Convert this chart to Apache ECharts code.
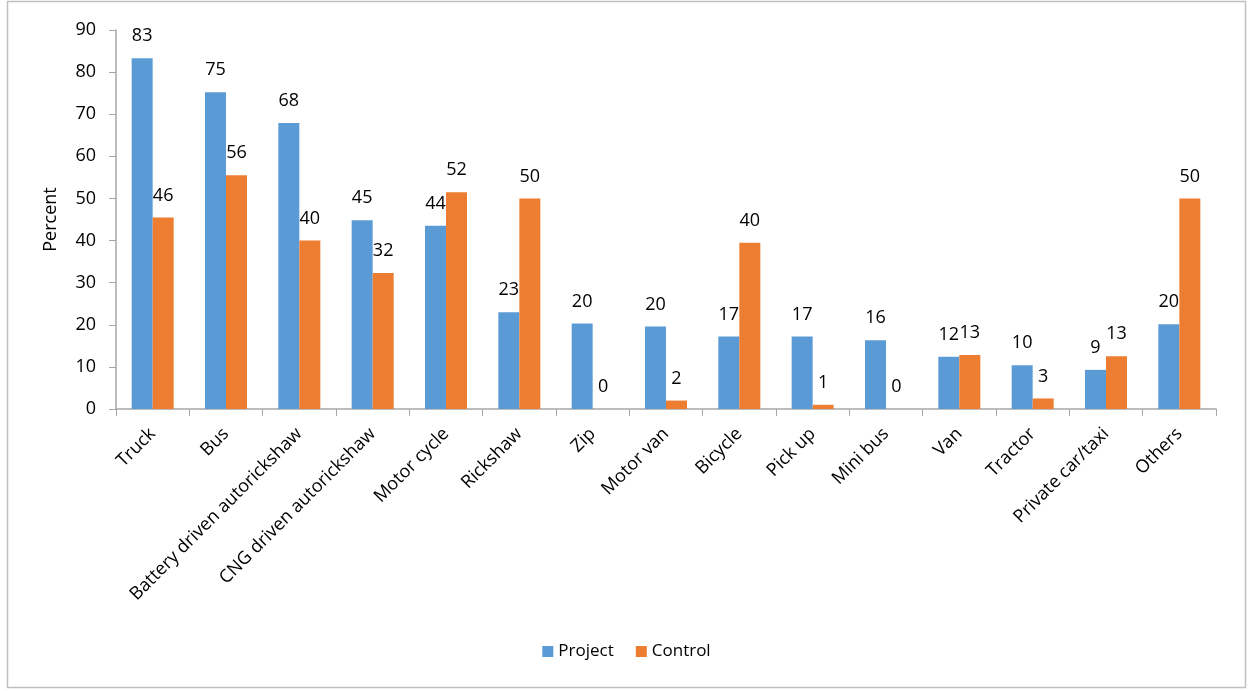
<!DOCTYPE html>
<html><head><meta charset="utf-8">
<script src="https://cdn.jsdelivr.net/npm/echarts@6/dist/echarts.min.js"></script>
<style>html,body{margin:0;padding:0;background:#fff}#c{width:1253px;height:691px}</style>
</head><body><div id="c"></div>
<script>
const categories = ["Truck","Bus","Battery driven autorickshaw","CNG driven autorickshaw","Motor cycle","Rickshaw","Zip","Motor van","Bicycle","Pick up","Mini bus","Van","Tractor","Private car/taxi","Others"];
const projectValues = [83.3,75.2,67.9,44.8,43.5,23.0,20.3,19.6,17.2,17.2,16.3,12.4,10.4,9.3,20.1];
const controlValues = [45.5,55.5,40.0,32.3,51.5,50.0,0,2.0,39.5,1.0,0,12.8,2.5,12.5,50.0];
const yTicks = [0,10,20,30,40,50,60,70,80,90];

const FONT = '"Open Sans", "Noto Sans", sans-serif';
const chart = echarts.init(document.getElementById('c'));
const labelCfg = {show:true, position:'top', distance:13, color:'#000', fontSize:18, fontFamily:FONT, formatter:p=>Math.round(p.value)};
chart.setOption({
  animation:false,
  graphic:[{type:'rect', shape:{x:7.5,y:1.5,width:1238,height:686}, style:{fill:null, stroke:'#bfbfbf', lineWidth:1.5}, silent:true}],
  grid:{left:116, right:37, top:30, bottom:282, containLabel:false},
  legend:{bottom:26, left:'center', itemWidth:11, itemHeight:11, itemGap:22, icon:'rect',
    textStyle:{fontSize:17, fontFamily:FONT, color:'#000'}, data:['Project','Control']},
  xAxis:{type:'category', data:categories,
    axisLine:{lineStyle:{color:'#a6a6a6', width:1.5}},
    axisTick:{show:true, length:7, lineStyle:{color:'#a6a6a6'}},
    axisLabel:{rotate:45, interval:0, fontSize:18, fontFamily:FONT, color:'#000', margin:22}},
  yAxis:{type:'value', min:0, max:90, interval:10, name:'Percent', nameLocation:'middle', nameGap:56,
    nameTextStyle:{fontSize:18, fontFamily:FONT, color:'#000'},
    axisLine:{show:true, lineStyle:{color:'#a6a6a6', width:1.5}},
    axisTick:{show:true, length:7, lineStyle:{color:'#a6a6a6'}},
    splitLine:{show:false},
    axisLabel:{fontSize:18, fontFamily:FONT, color:'#000', margin:20,
      formatter:v=>yTicks.includes(v)?String(v):''}},
  series:[
    {name:'Project', type:'bar', data:projectValues, barWidth:21, barGap:'0%', itemStyle:{color:'#5b9bd5'}, label:labelCfg},
    {name:'Control', type:'bar', data:controlValues, barWidth:21, itemStyle:{color:'#ed7d31'}, label:labelCfg}
  ]
});
</script></body></html>
